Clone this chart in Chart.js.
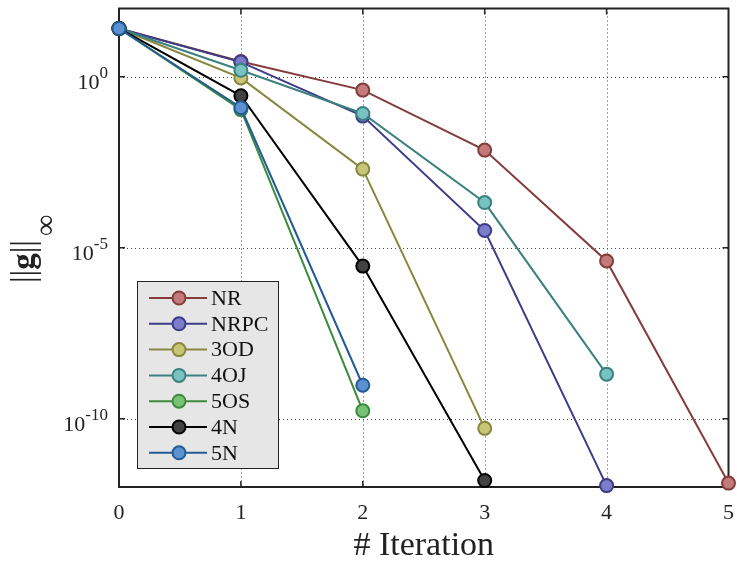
<!DOCTYPE html>
<html lang="en">
<head>
<meta charset="UTF-8">
<title>Convergence</title>
<script src="https://cdn.jsdelivr.net/npm/chart.js"></script>
<style>
  html, body { margin: 0; padding: 0; background: #fff; }
</style>
</head>
<body>
<canvas id="convChart" width="737" height="563"></canvas>
<script>
// iterations on the x axis
const iterations = [0, 1, 2, 3, 4, 5];
// ||g||_inf per method
const nr   = [26, 2.8, 0.41, 7.2e-3, 4.1e-6, 1.3e-12];
const nrpc = [26, 2.7, 0.071, 3.2e-5, 1.1e-12];
const od3  = [26, 0.93, 2.0e-3, 5.2e-11];
const oj4  = [26, 1.56, 0.085, 2.1e-4, 2.0e-9];
const os5  = [26, 0.11, 1.7e-10];
const n4   = [26, 0.28, 2.9e-6, 1.55e-12];
const n5   = [26, 0.125, 9.5e-10];
const seriesNames = ['NR', 'NRPC', '3OD', '4OJ', '5OS', '4N', '5N'];
const yTicks = [1e-10, 1e-5, 1];
const yTickExp = ['-10', '-5', '0'];

const lineColors = ['#843c3c', '#3c3c88', '#878740', '#3c8080', '#3c8a3c', '#000000', '#245b94'];
const fillColors = ['#c27a7a', '#7c7cc8', '#c6c676', '#78c2c2', '#78c278', '#424242', '#5d92d2'];
const allSeries = [nr, nrpc, od3, oj4, os5, n4, n5];

const serif = '"Liberation Serif", "DejaVu Serif", serif';

const datasets = allSeries.map((vals, i) => ({
    label: seriesNames[i],
    data: vals.map((v, k) => ({x: iterations[k], y: v})),
    borderColor: lineColors[i],
    backgroundColor: fillColors[i],
    pointBackgroundColor: fillColors[i],
    pointBorderColor: lineColors[i],
    borderWidth: 2,
    pointRadius: 6.5,
    pointBorderWidth: 2,
    tension: 0,
    clip: false,
    order: allSeries.length - i
}));

// grid + frame under the lines, labels and legend on top
const decor = {
    id: 'decor',
    beforeDatasetsDraw(chart) {
        const {ctx, chartArea: a, scales: {x, y}} = chart;
        ctx.save();
        ctx.strokeStyle = '#444';
        ctx.lineWidth = 1;
        ctx.setLineDash([1, 3]);
        iterations.slice(1, -1).forEach(v => {
            const px = Math.round(x.getPixelForValue(v)) + 0.5;
            ctx.beginPath(); ctx.moveTo(px, a.top); ctx.lineTo(px, a.bottom); ctx.stroke();
        });
        yTicks.forEach(v => {
            const py = Math.round(y.getPixelForValue(v)) + 0.5;
            ctx.beginPath(); ctx.moveTo(a.left, py); ctx.lineTo(a.right, py); ctx.stroke();
        });
        ctx.setLineDash([]);
        // tick marks inside the box
        ctx.strokeStyle = '#222';
        ctx.lineWidth = 1.5;
        iterations.slice(1, -1).forEach(v => {
            const px = x.getPixelForValue(v);
            ctx.beginPath();
            ctx.moveTo(px, a.top); ctx.lineTo(px, a.top + 6);
            ctx.moveTo(px, a.bottom); ctx.lineTo(px, a.bottom - 6);
            ctx.stroke();
        });
        yTicks.forEach(v => {
            const py = y.getPixelForValue(v);
            ctx.beginPath();
            ctx.moveTo(a.left, py); ctx.lineTo(a.left + 6, py);
            ctx.moveTo(a.right, py); ctx.lineTo(a.right - 6, py);
            ctx.stroke();
        });
        ctx.lineWidth = 2;
        ctx.strokeRect(a.left, a.top, a.right - a.left, a.bottom - a.top);
        ctx.restore();
    },
    afterDraw(chart) {
        const {ctx, chartArea: a, scales: {x, y}} = chart;
        ctx.save();
        ctx.fillStyle = '#222';

        // x tick labels
        ctx.font = '22px ' + serif;
        ctx.textAlign = 'center';
        ctx.textBaseline = 'alphabetic';
        iterations.forEach(v => ctx.fillText(String(v), x.getPixelForValue(v), 519));

        // y tick labels 10^n
        yTicks.forEach((v, i) => {
            const py = y.getPixelForValue(v);
            ctx.font = '17px ' + serif;
            const sw = ctx.measureText(yTickExp[i]).width;
            const right = a.left - 11;
            ctx.textAlign = 'left';
            ctx.fillText(yTickExp[i], right - sw, py + 1);
            ctx.font = '22px ' + serif;
            ctx.textAlign = 'right';
            ctx.fillText('10', right - sw, py + 12);
        });

        // x title
        ctx.font = '34px ' + serif;
        ctx.textAlign = 'center';
        ctx.fillText('# Iteration', (a.left + a.right) / 2, 555);

        // y title ||g||_inf
        ctx.translate(34, 283);
        ctx.rotate(-Math.PI / 2);
        ctx.textAlign = 'left';
        let lx = 0;
        const parts = [['||', '33px ' + serif], ['g', 'bold 33px ' + serif], ['||', '33px ' + serif]];
        parts.forEach(([t, f]) => {
            ctx.font = f;
            ctx.fillText(t, lx, 0);
            lx += ctx.measureText(t).width;
        });
        ctx.font = '30px ' + serif;
        ctx.textBaseline = 'middle';
        ctx.fillText('\u221E', lx + 4, 13);
        ctx.setTransform(1, 0, 0, 1, 0, 0);

        // legend box
        const bx = 137, by = 281, bw = 141, bh = 187;
        ctx.fillStyle = '#e6e6e6';
        ctx.fillRect(bx, by, bw, bh);
        ctx.strokeStyle = '#222';
        ctx.lineWidth = 1;
        ctx.strokeRect(bx + 0.5, by + 0.5, bw, bh);
        chart.data.datasets.forEach((ds, i) => {
            const cy = 298 + i * 25.8;
            ctx.strokeStyle = ds.borderColor;
            ctx.lineWidth = 2;
            ctx.beginPath(); ctx.moveTo(149, cy); ctx.lineTo(207, cy); ctx.stroke();
            ctx.beginPath();
            ctx.arc(179, cy, 6.5, 0, Math.PI * 2);
            ctx.fillStyle = ds.pointBackgroundColor;
            ctx.fill();
            ctx.stroke();
            ctx.fillStyle = '#111';
            ctx.font = '22px ' + serif;
            ctx.textAlign = 'left';
            ctx.textBaseline = 'middle';
            ctx.fillText(ds.label, 211, cy + 1);
        });
        ctx.restore();
    }
};

new Chart(document.getElementById('convChart'), {
    type: 'line',
    data: {datasets: datasets},
    options: {
        responsive: false,
        animation: false,
        layout: {padding: {top: 6, right: 5, left: 0, bottom: 0}},
        plugins: {legend: {display: false}, tooltip: {enabled: false}},
        scales: {
            x: {
                type: 'linear', min: 0, max: 5,
                ticks: {display: false, stepSize: 1},
                grid: {display: false},
                border: {display: false},
                afterFit(s) { s.height = 76; }
            },
            y: {
                type: 'logarithmic', min: 1e-12, max: 100,
                ticks: {display: false},
                grid: {display: false},
                border: {display: false},
                afterBuildTicks(s) { s.ticks = yTicks.map(v => ({value: v})); },
                afterFit(s) { s.width = 119; }
            }
        }
    },
    plugins: [decor]
});
</script>
</body>
</html>
